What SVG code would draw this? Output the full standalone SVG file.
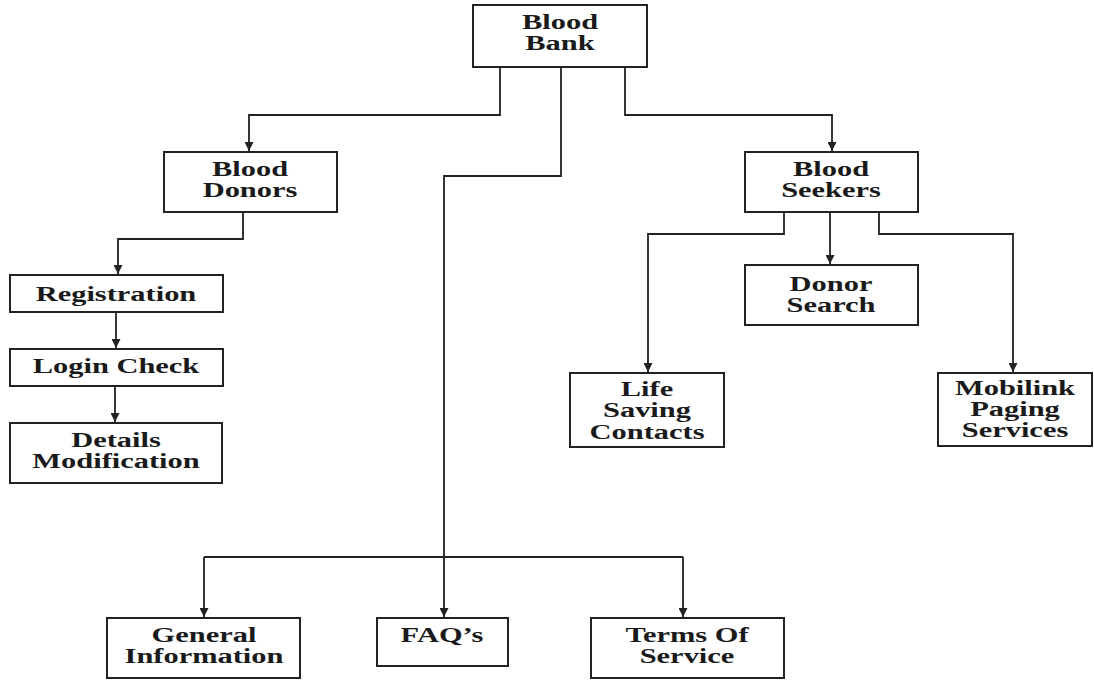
<svg xmlns="http://www.w3.org/2000/svg" width="1094" height="682" viewBox="0 0 1094 682">
<style>
.box{fill:#fff;stroke:#222;stroke-width:2}
.t{font-family:"Liberation Serif","Times New Roman",serif;font-weight:bold;font-size:21px;fill:#1a1a1a;text-anchor:middle}
.c{fill:none;stroke:#222;stroke-width:1.8}
</style>
<defs>
<marker id="ah" viewBox="0 0 10 10" markerWidth="9" markerHeight="9" refX="10" refY="5" orient="auto" markerUnits="userSpaceOnUse">
<path d="M0,0 L10,5 L0,10 z" fill="#222"/>
</marker>
</defs>
<rect width="1094" height="682" fill="#fff"/>
<g id="connectors">
<path class="c" d="M500,67 V115 H249 V151" marker-end="url(#ah)"/>
<path class="c" d="M625,67 V115 H832 V151" marker-end="url(#ah)"/>
<path class="c" d="M561,67 V176 H444 V617" marker-end="url(#ah)"/>
<path class="c" d="M204,557 H683"/>
<path class="c" d="M204,557 V617" marker-end="url(#ah)"/>
<path class="c" d="M683,557 V617" marker-end="url(#ah)"/>
<path class="c" d="M243,212 V239 H118 V274" marker-end="url(#ah)"/>
<path class="c" d="M116,312 V348" marker-end="url(#ah)"/>
<path class="c" d="M115,386 V422" marker-end="url(#ah)"/>
<path class="c" d="M784,212 V234 H648 V372" marker-end="url(#ah)"/>
<path class="c" d="M830,212 V264" marker-end="url(#ah)"/>
<path class="c" d="M879,212 V234 H1013 V372" marker-end="url(#ah)"/>
</g>
<g id="blood-bank">
<rect class="box" x="473" y="5" width="174" height="62"/>
<text class="t" transform="translate(560,29) scale(1.45,1)">Blood</text>
<text class="t" transform="translate(560,50) scale(1.45,1)">Bank</text>
</g>
<g id="blood-donors">
<rect class="box" x="164" y="152" width="173" height="60"/>
<text class="t" transform="translate(250,176) scale(1.45,1)">Blood</text>
<text class="t" transform="translate(250,197) scale(1.45,1)">Donors</text>
</g>
<g id="blood-seekers">
<rect class="box" x="745" y="152" width="173" height="60"/>
<text class="t" transform="translate(831,176) scale(1.45,1)">Blood</text>
<text class="t" transform="translate(831,197) scale(1.45,1)">Seekers</text>
</g>
<g id="registration">
<rect class="box" x="10" y="275" width="213" height="37"/>
<text class="t" transform="translate(116,301) scale(1.45,1)">Registration</text>
</g>
<g id="login-check">
<rect class="box" x="10" y="349" width="213" height="37"/>
<text class="t" transform="translate(116,373) scale(1.45,1)">Login Check</text>
</g>
<g id="details-modification">
<rect class="box" x="10" y="423" width="212" height="60"/>
<text class="t" transform="translate(116,447) scale(1.45,1)">Details</text>
<text class="t" transform="translate(116,468) scale(1.45,1)">Modification</text>
</g>
<g id="donor-search">
<rect class="box" x="745" y="265" width="173" height="60"/>
<text class="t" transform="translate(831,291) scale(1.45,1)">Donor</text>
<text class="t" transform="translate(831,312) scale(1.45,1)">Search</text>
</g>
<g id="life-saving-contacts">
<rect class="box" x="570" y="373" width="154" height="74"/>
<text class="t" transform="translate(647,396) scale(1.45,1)">Life</text>
<text class="t" transform="translate(647,417) scale(1.45,1)">Saving</text>
<text class="t" transform="translate(647,439) scale(1.45,1)">Contacts</text>
</g>
<g id="mobilink-paging-services">
<rect class="box" x="938" y="373" width="154" height="73"/>
<text class="t" transform="translate(1015,395) scale(1.45,1)">Mobilink</text>
<text class="t" transform="translate(1015,416) scale(1.45,1)">Paging</text>
<text class="t" transform="translate(1015,437) scale(1.45,1)">Services</text>
</g>
<g id="general-information">
<rect class="box" x="107" y="618" width="193" height="60"/>
<text class="t" transform="translate(204,642) scale(1.45,1)">General</text>
<text class="t" transform="translate(204,663) scale(1.45,1)">Information</text>
</g>
<g id="faqs">
<rect class="box" x="377" y="618" width="131" height="48"/>
<text class="t" transform="translate(442,642) scale(1.45,1)">FAQ’s</text>
</g>
<g id="terms-of-service">
<rect class="box" x="591" y="618" width="193" height="60"/>
<text class="t" transform="translate(687,642) scale(1.45,1)">Terms Of</text>
<text class="t" transform="translate(687,663) scale(1.45,1)">Service</text>
</g>
</svg>
